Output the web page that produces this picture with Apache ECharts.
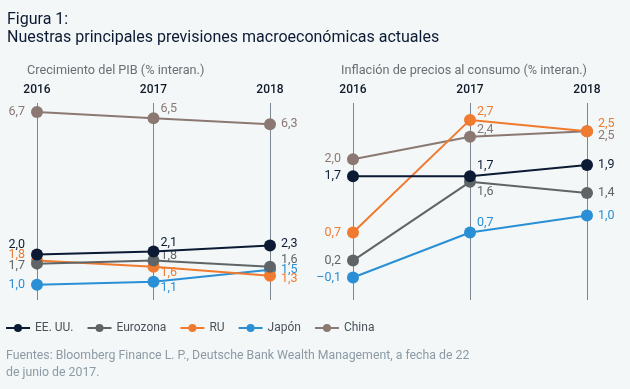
<!DOCTYPE html>
<html>
<head>
<meta charset="utf-8">
<style>
html,body{margin:0;padding:0;background:#f3f7f8;}
#c{width:630px;height:389px;}
</style>
<script src="https://cdn.jsdelivr.net/npm/echarts@6/dist/echarts.min.js"></script>
</head>
<body>
<div id="c"></div>
<script>
// ---- data ----
var years = ['2016', '2017', '2018'];
var seriesNames = ['EE. UU.', 'Eurozona', 'RU', 'Japón', 'China'];
// GDP growth (% yoy)
var gdpUS = [2.0, 2.1, 2.3];
var gdpEuro = [1.7, 1.8, 1.6];
var gdpUK = [1.8, 1.6, 1.3];
var gdpJapan = [1.0, 1.1, 1.5];
var gdpChina = [6.7, 6.5, 6.3];
// CPI inflation (% yoy)
var cpiUS = [1.7, 1.7, 1.9];
var cpiEuro = [0.2, 1.6, 1.4];
var cpiUK = [0.7, 2.7, 2.5];
var cpiJapan = [-0.1, 0.7, 1.0];
var cpiChina = [2.0, 2.4, 2.5];

var titleLine1 = 'Figura 1:';
var titleLine2 = 'Nuestras principales previsiones macroeconómicas actuales';
var subLeft = 'Crecimiento del PIB (% interan.)';
var subRight = 'Inflación de precios al consumo (% interan.)';
var source1 = 'Fuentes: Bloomberg Finance L. P., Deutsche Bank Wealth Management, a fecha de 22';
var source2 = 'de junio de 2017.';

// ---- styles ----
var colors = ['#0c1a33', '#5f6567', '#f07a2e', '#2a8fd4', '#8b7873'];
var FONT = 'Roboto, "Liberation Sans", sans-serif';

// label placement per point: [position, dx, dy]
var gdpLabelPos = [
  [['left',0,-10], ['right',0,-9], ['right',0,-2]],   // US
  [['left',0,2],   ['right',0,-5], ['right',0,-7]],   // Euro
  [['left',0,-6],  ['right',0,6],  ['right',0,3]],    // UK
  [['left',0,0],   ['right',0,6],  ['right',0,0]],    // Japan
  [['left',0,0],   ['right',0,-9], ['right',0,0]]     // China
];
var cpiLabelPos = [
  [['left',0,0], ['right',0,-10], ['right',0,0]],
  [['left',0,0], ['right',0,10],  ['right',0,0]],
  [['left',0,0], ['right',0,-8],  ['right',0,-7]],
  [['left',0,0], ['right',0,-10], ['right',0,0]],
  [['left',0,0], ['right',0,-7],  ['right',0,5]]
];

function fmt(v) {
  return v.toFixed(1).replace('.', ',').replace('-', '\u2013');
}

function buildSeries(values, idx, gridIdx, placement) {
  return {
    name: seriesNames[idx],
    type: 'line',
    xAxisIndex: gridIdx,
    yAxisIndex: gridIdx,
    symbol: 'circle',
    symbolSize: 12,
    z: 10 - idx,
    color: colors[idx],
    lineStyle: { width: 2, color: colors[idx] },
    itemStyle: { color: colors[idx] },
    emphasis: { disabled: true },
    animation: false,
    data: values.map(function (v, i) {
      var p = placement[idx][i];
      return {
        value: v,
        label: {
          show: true,
          position: p[0],
          distance: p[0] === 'left' ? 6 : (i === 1 ? 1 : 5),
          offset: [p[1], p[2]],
          formatter: function (d) { return fmt(d.value); },
          color: colors[idx],
          fontSize: 12.5,
          fontFamily: FONT
        }
      };
    })
  };
}

var series = [];
[gdpUS, gdpEuro, gdpUK, gdpJapan, gdpChina].forEach(function (arr, i) {
  series.push(buildSeries(arr, i, 0, gdpLabelPos));
});
[cpiUS, cpiEuro, cpiUK, cpiJapan, cpiChina].forEach(function (arr, i) {
  series.push(buildSeries(arr, i, 1, cpiLabelPos));
});

function xAxis(gi) {
  return {
    type: 'category',
    gridIndex: gi,
    data: years,
    position: 'top',
    boundaryGap: false,
    axisLine: { show: false },
    axisTick: { show: false },
    axisLabel: { color: '#111a2a', fontSize: 12, fontFamily: FONT, margin: 7, fontWeight: 500 },
    splitLine: { show: true, lineStyle: { color: '#7d8790', width: 1 } }
  };
}
function yAxis(gi, mn, mx) {
  return {
    type: 'value',
    gridIndex: gi,
    min: mn,
    max: mx,
    show: false,
    splitLine: { show: false }
  };
}

var chart = echarts.init(document.getElementById('c'), null, { renderer: 'canvas' });
chart.setOption({
  backgroundColor: '#f3f7f8',
  animation: false,
  textStyle: { fontFamily: FONT },
  grid: [
    { left: 37, width: 233, top: 103, height: 197 },
    { left: 353, width: 234, top: 103, height: 197 }
  ],
  xAxis: [xAxis(0), xAxis(1)],
  yAxis: [yAxis(0, 0.5, 7.0), yAxis(1, -0.5, 3.0)],
  legend: {
    data: seriesNames,
    left: 5,
    top: 322,
    padding: 0,
    itemWidth: 24,
    itemHeight: 10,
    itemGap: 13,
    textStyle: { color: '#4a5158', fontSize: 12, fontFamily: FONT },
    selectedMode: false
  },
  graphic: [
    { type: 'text', left: 7, top: 12, style: { text: titleLine1, fill: '#0c1a33', font: '16px ' + FONT } },
    { type: 'text', left: 7, top: 30, style: { text: titleLine2, fill: '#0c1a33', font: '16px ' + FONT } },
    { type: 'text', left: 27, top: 64, style: { text: subLeft, fill: '#6a6f73', font: '12.7px ' + FONT } },
    { type: 'text', left: 341, top: 64, style: { text: subRight, fill: '#6a6f73', font: '12.7px ' + FONT } },
    { type: 'text', left: 6, top: 350, style: { text: source1, fill: '#8c9aa6', font: '12.3px ' + FONT } },
    { type: 'text', left: 6, top: 367, style: { text: source2, fill: '#8c9aa6', font: '12.3px ' + FONT } }
  ],
  series: series
});
</script>
</body>
</html>
